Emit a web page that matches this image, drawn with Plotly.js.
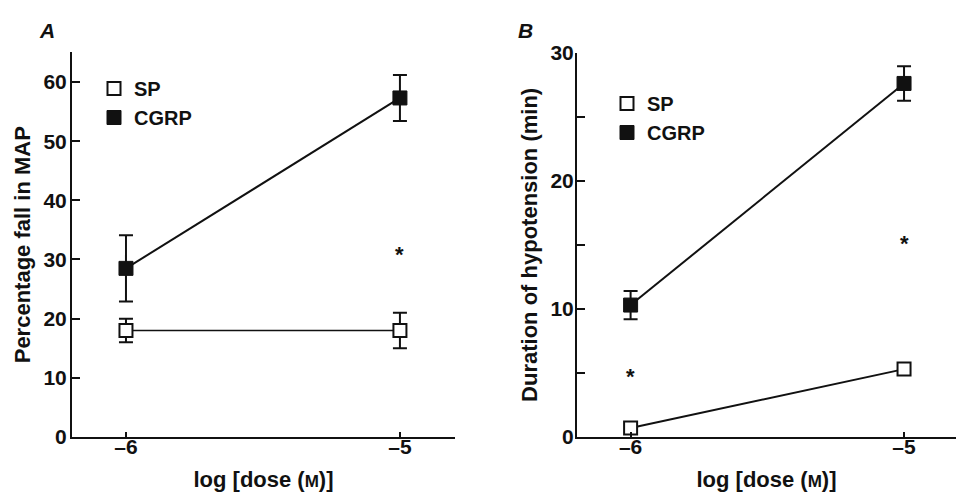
<!DOCTYPE html>
<html>
<head>
<meta charset="utf-8">
<script src="https://cdn.plot.ly/plotly-3.0.1.min.js"></script>
<style>html,body{margin:0;padding:0;background:#fff;}#chart{width:956px;height:493px;}</style>
</head>
<body>
<div id="chart"></div>
<script>
// ---- data ----
const doses = [-6, -5];
const doseTickText = ['\u20136', '\u20135'];

// Panel A: percentage fall in MAP
const aSP = [18, 18];
const aSPplus = [2, 3];
const aSPminus = [2, 3];
const aCGRP = [28.5, 57.3];
const aCGRPplus = [5.6, 3.9];
const aCGRPminus = [5.6, 3.9];
const aStarX = [-5];
const aStarY = [31.5];

// Panel B: duration of hypotension (min)
const bSP = [0.7, 5.3];
const bCGRP = [10.3, 27.6];
const bCGRPplus = [1.1, 1.35];
const bCGRPminus = [1.1, 1.35];
const bStarX = [-6, -5];
const bStarY = [5.0, 15.4];

const yTicksA = [0, 10, 20, 30, 40, 50, 60];
const yTicksB = [0, 5, 10, 15, 20, 25, 30];
const yTickTextB = ['0', '', '10', '', '20', '', '30'];

const seriesNames = ['SP', 'CGRP'];

// ---- styling ----
const FONT = 'Liberation Sans, Arial, Helvetica, sans-serif';
const black = '#111';
const openMarker = {symbol: 'square', size: 13, color: '#fff', line: {color: black, width: 2}};
const fillMarker = {symbol: 'square', size: 14, color: black, line: {color: black, width: 1}};
const errStyle = {thickness: 2, width: 7, color: black};
const bold = s => (s === '' ? '' : '<b>' + s + '</b>');

function errs(plus, minus) {
  return Object.assign({type: 'data', symmetric: false, array: plus, arrayminus: minus}, errStyle);
}
const starFont = {family: FONT, size: 22, color: black};

const traces = [
  // Panel A
  {x: doses, y: aSP, xaxis: 'x', yaxis: 'y', mode: 'lines+markers', showlegend: false,
   line: {color: black, width: 1.5}, marker: openMarker, error_y: errs(aSPplus, aSPminus), cliponaxis: false},
  {x: doses, y: aCGRP, xaxis: 'x', yaxis: 'y', mode: 'lines+markers', showlegend: false,
   line: {color: black, width: 2}, marker: fillMarker, error_y: errs(aCGRPplus, aCGRPminus), cliponaxis: false},
  // Panel B
  {x: doses, y: bSP, xaxis: 'x2', yaxis: 'y2', mode: 'lines+markers', showlegend: false,
   line: {color: black, width: 2}, marker: openMarker, cliponaxis: false},
  {x: doses, y: bCGRP, xaxis: 'x2', yaxis: 'y2', mode: 'lines+markers', showlegend: false,
   line: {color: black, width: 2}, marker: fillMarker, error_y: errs(bCGRPplus, bCGRPminus), cliponaxis: false},
  // Legend entries
  {x: [null], y: [null], xaxis: 'x', yaxis: 'y', mode: 'markers', name: bold(seriesNames[0]), marker: openMarker, legend: 'legend'},
  {x: [null], y: [null], xaxis: 'x', yaxis: 'y', mode: 'markers', name: bold(seriesNames[1]), marker: fillMarker, legend: 'legend'},
  {x: [null], y: [null], xaxis: 'x2', yaxis: 'y2', mode: 'markers', name: bold(seriesNames[0]), marker: openMarker, legend: 'legend2'},
  {x: [null], y: [null], xaxis: 'x2', yaxis: 'y2', mode: 'markers', name: bold(seriesNames[1]), marker: fillMarker, legend: 'legend2'}
];

const W = 956, H = 493;
const yBot = (H - 437) / H;

const tickFont = {family: FONT, size: 21, color: black, weight: 700};
const titleFont = {family: FONT, size: 22, color: black};

function xAxis(domain, range) {
  return {
    domain: domain, range: range, showgrid: false, zeroline: false,
    showline: true, linecolor: black, linewidth: 2,
    ticks: 'inside', ticklen: 5, tickwidth: 2, tickcolor: black, ticklabelstandoff: -10,
    tickmode: 'array', tickvals: doses, ticktext: doseTickText.map(bold),
    tickfont: tickFont,
    title: {text: '<b>log [dose (<span style="font-size:17px">M</span>)]</b>', font: titleFont, standoff: 14}
  };
}
function yAxis(domain, range, tickvals, ticktext, title, anchor, standoff) {
  return {
    domain: domain, range: range, showgrid: false, zeroline: false, anchor: anchor,
    showline: true, linecolor: black, linewidth: 2,
    ticks: 'inside', ticklen: 8, tickwidth: 2, tickcolor: black, ticklabelstandoff: standoff,
    tickmode: 'array', tickvals: tickvals, ticktext: ticktext.map(bold),
    tickfont: tickFont,
    title: {text: bold(title), font: titleFont, standoff: 7}
  };
}

const legendFont = {family: FONT, size: 20, color: black};

const starAnn = (xs, ys, xref, yref) => xs.map((x, i) => ({
  text: '<b>*</b>', x: x, y: ys[i], xref: xref, yref: yref, showarrow: false,
  yshift: -4, font: starFont
}));

const layout = {
  width: W, height: H,
  margin: {l: 0, r: 0, t: 0, b: 0},
  paper_bgcolor: '#fff', plot_bgcolor: '#fff',
  font: {family: FONT, color: black},
  xaxis: Object.assign(xAxis([72 / W, 455 / W], [-6.197, -4.799]), {anchor: 'y'}),
  yaxis: yAxis([yBot, (H - 52.4) / H], [0, 65], yTicksA, yTicksA.map(String), 'Percentage fall in MAP', 'x', -1),
  xaxis2: Object.assign(xAxis([577 / W, 1], [-6.196, -4.81]), {anchor: 'y2'}),
  yaxis2: yAxis([yBot, (H - 52.7) / H], [0, 30], yTicksB, yTickTextB, 'Duration of hypotension (min)', 'x2', -3),
  legend: {x: 94 / W, y: (H - 69) / H, xanchor: 'left', yanchor: 'top', bgcolor: 'rgba(0,0,0,0)',
           font: legendFont, itemwidth: 30},
  legend2: {x: 607 / W, y: (H - 84) / H, xanchor: 'left', yanchor: 'top', bgcolor: 'rgba(0,0,0,0)',
            font: legendFont, itemwidth: 30},
  annotations: [
    {text: '<b><i>A</i></b>', xref: 'paper', yref: 'paper', x: 37 / W, y: (H - 17) / H, showarrow: false,
     font: {family: FONT, size: 21, color: black}},
    {text: '<b><i>B</i></b>', xref: 'paper', yref: 'paper', x: 525 / W, y: (H - 17) / H, showarrow: false,
     font: {family: FONT, size: 21, color: black}}
  ].concat(starAnn(aStarX, aStarY, 'x', 'y'), starAnn(bStarX, bStarY, 'x2', 'y2'))
};

Plotly.newPlot('chart', traces, layout, {displayModeBar: false, staticPlot: true});
</script>
</body>
</html>
